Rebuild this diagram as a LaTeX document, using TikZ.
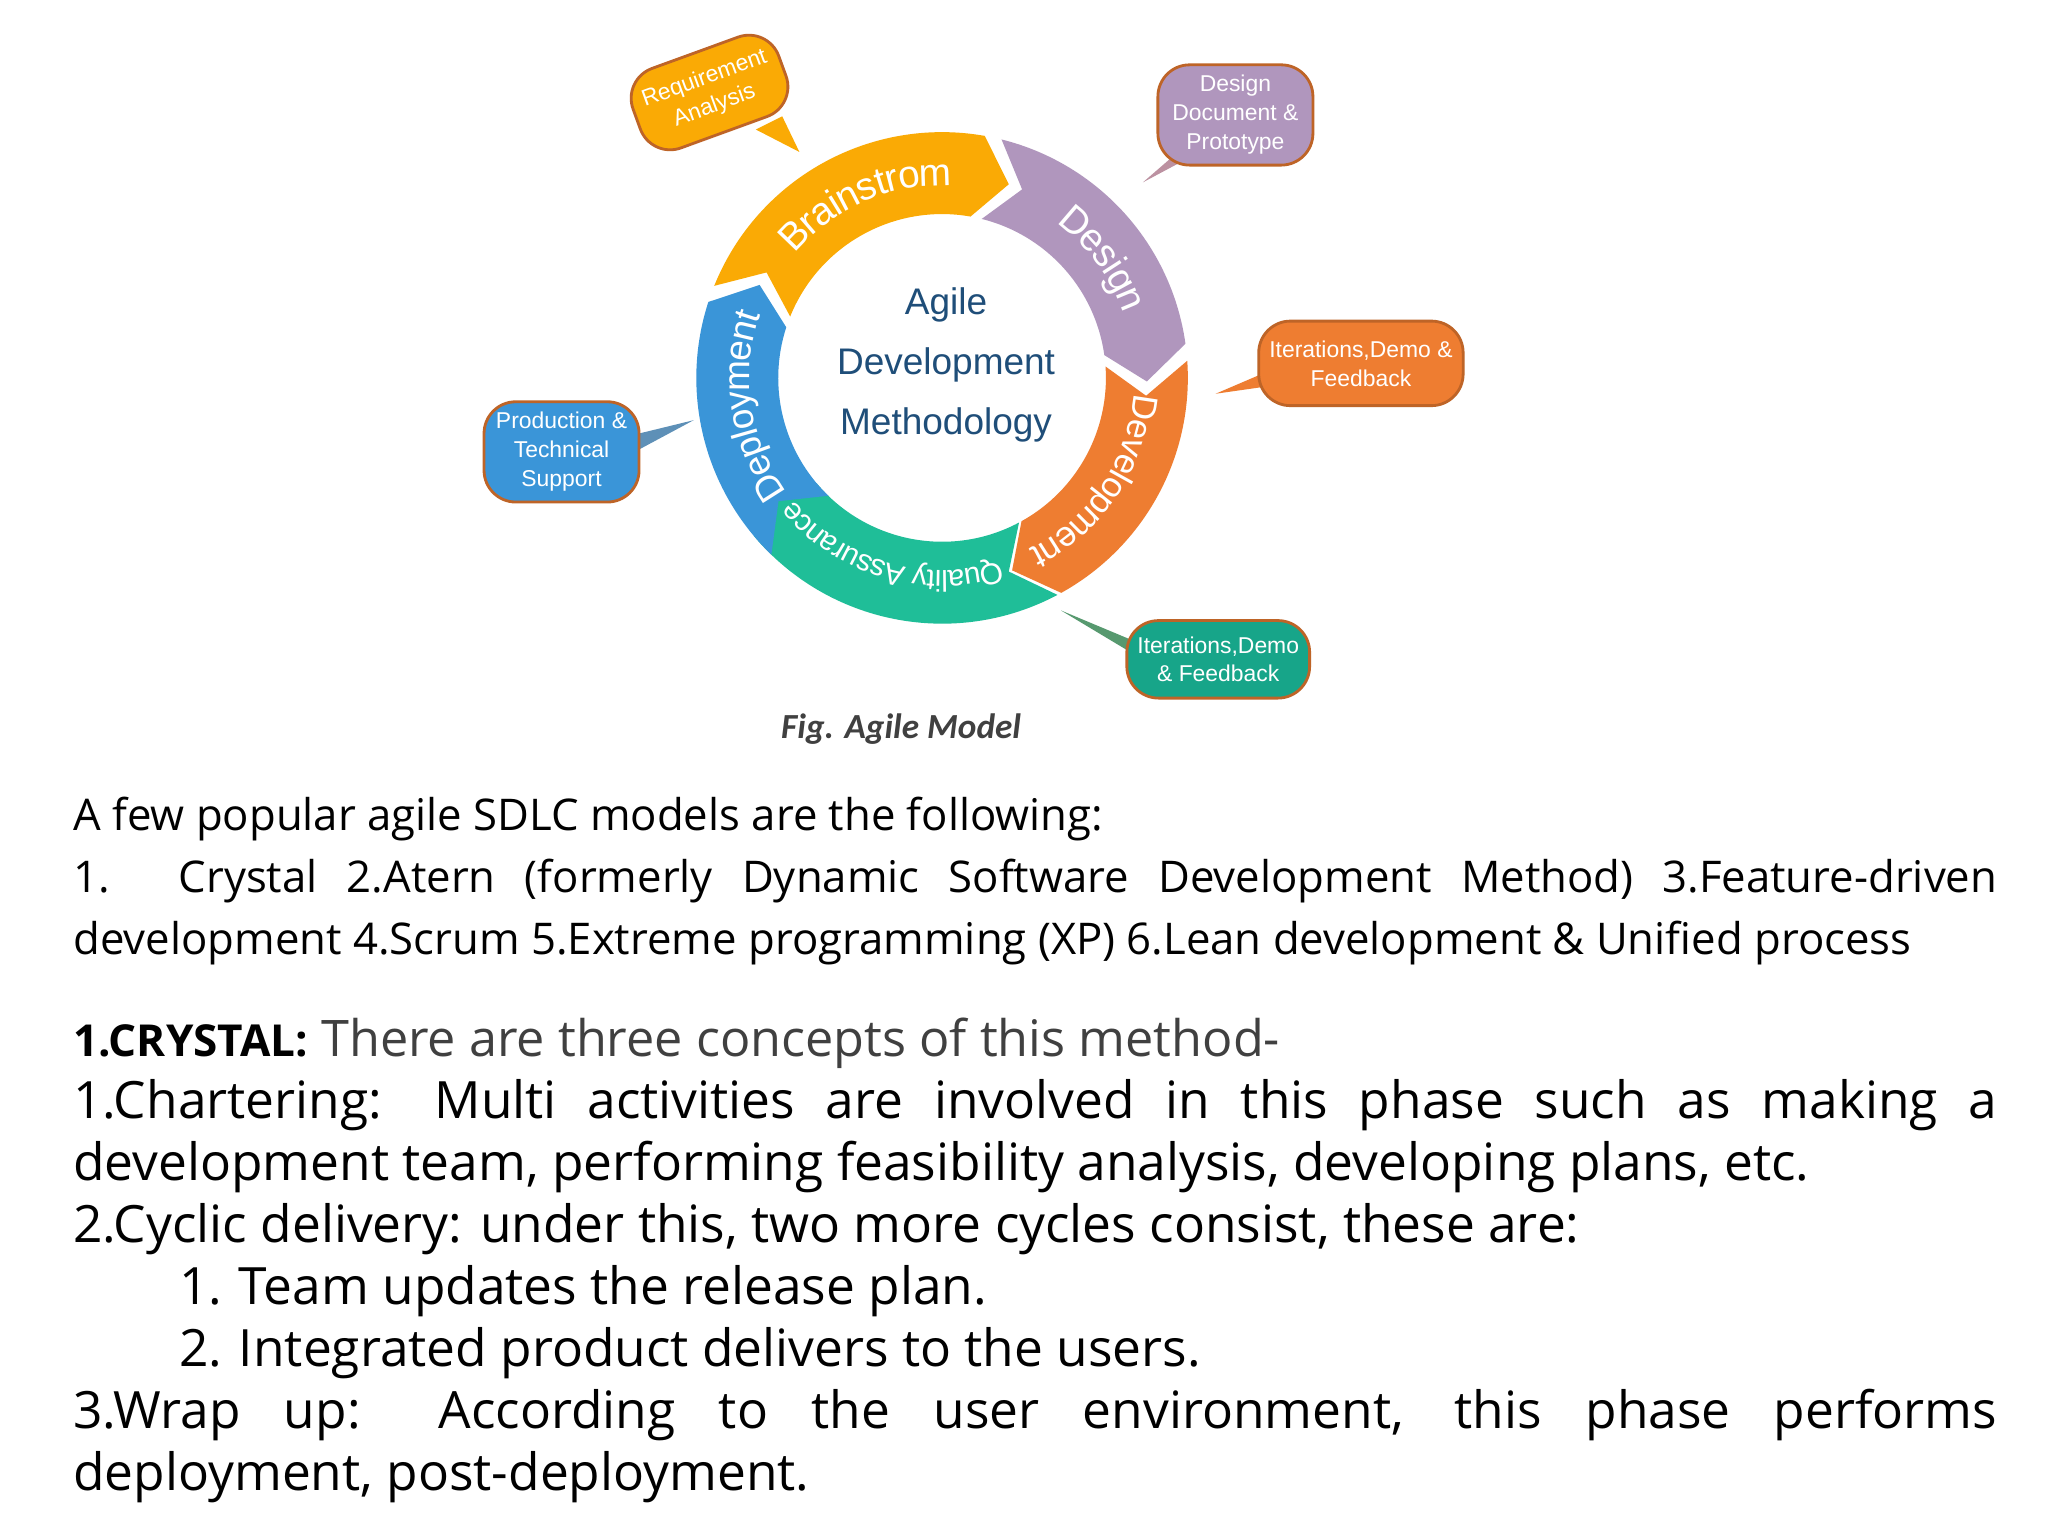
\documentclass[tikz,border=0pt]{standalone}
\usepackage{fontspec}
\setmainfont{Open Sans}
\newfontfamily\callfont{Liberation Sans}
\newfontfamily\capfont{Carlito}
\usetikzlibrary{decorations.text}
\definecolor{cBrain}{HTML}{FAAA05}
\definecolor{cDesign}{HTML}{B096BD}
\definecolor{cDev}{HTML}{EE7D31}
\definecolor{cQA}{HTML}{1FBE98}
\definecolor{cDep}{HTML}{3A95D8}
\definecolor{cTeal}{HTML}{17A589}
\definecolor{cCenter}{HTML}{1F4E79}
\definecolor{cGray}{HTML}{404040}
\tikzset{
  callout/.style={rounded corners=9pt,draw=cDev!80!black,line width=0.8pt,text=white,font=\callfont\fontsize{6.5}{8.2}\selectfont,align=center,inner sep=3pt},
  ringtext/.style 2 args={decorate,decoration={text along path,text align=center,raise=-3.5pt,text={|\callfont\fontsize{#2}{12}\selectfont\color{white}|#1}}}
}
\newcommand{\seg}[5]{% start, end, color, text, size
  \fill[#3] (#1:186) arc[start angle=#1,end angle=#2,radius=186] -- (#2-9:155) -- (#2:124) arc[start angle=#2,end angle=#1,radius=124] -- (#1-9:155) -- cycle;
  \path[ringtext={#4}{#5}] (#1-9:155) arc[start angle=#1-9,end angle=#2-2,radius=155];
}
\begin{document}
\begin{tikzpicture}[x=0.375pt,y=-0.375pt]
\useasboundingbox (0,0) rectangle (1550,1163);
\fill[white] (0,0) rectangle (1550,1163);
\begin{scope}[shift={(713,286)},y=0.375pt]
\seg{-62}{-140}{cQA}{Quality Assurance}{8.5}
\seg{158}{80}{cBrain}{Brainstrom}{11}
\seg{76}{8}{cDesign}{Design}{11}
\seg{4}{-61}{cDev}{Development}{10}
\seg{-134}{-198}{cDep}{Deployment}{10.5}
\end{scope}
\node[font=\callfont\fontsize{10.5}{17}\selectfont,text=cCenter,align=center] (center) at (716,276) {Agile\\Development\\Methodology};
% callouts
\fill[cBrain] (572,98) -- (605,115) -- (592,88) -- cycle;
\node[callout,fill=cBrain,minimum width=44pt,minimum height=24pt,rotate=20] (req) at (537,70) {Requirement\\Analysis};
\fill[cDesign!80!cDev] (895,112) -- (865,138) -- (910,114) -- cycle;
\node[callout,fill=cDesign,minimum width=44pt] (des) at (935,87) {Design\\Document \&\\Prototype};
\fill[cDev] (962,280) -- (920,298) -- (962,292) -- cycle;
\node[callout,fill=cDev,minimum width=53pt,minimum height=24pt] (it1) at (1030,275) {Iterations,Demo \&\\Feedback};
\fill[cDep!80!cDev] (484,328) -- (525,318) -- (484,340) -- cycle;
\node[callout,fill=cDep,minimum width=44pt] (prod) at (425,342) {Production \&\\Technical\\Support};
\fill[cTeal!70!cDev] (858,485) -- (803,462) -- (858,495) -- cycle;
\node[callout,fill=cTeal,minimum width=49pt,minimum height=22pt] (it2) at (922,499) {Iterations,Demo\\\& Feedback};
\node[font=\capfont\bfseries\itshape\fontsize{10}{12}\selectfont,text=cGray] (cap) at (682,552) {Fig. Agile Model};
% body
\node[anchor=north west,inner sep=0pt,text width=546pt,align=justify,font=\fontsize{12.4}{17.6}\selectfont] (p1) at (55,603) {\hyphenpenalty=10000\relax A few popular agile SDLC models are the following:\\
1. Crystal 2.Atern (formerly Dynamic Software Development Method) 3.Feature-driven\linebreak development 4.Scrum 5.Extreme programming (XP) 6.Lean development \& Unified process};
\node[anchor=north west,inner sep=0pt,text width=546pt,align=justify,font=\fontsize{14.6}{17.6}\selectfont] (p2) at (55,770) {\hyphenpenalty=10000\relax\textbf{\fontsize{12.5}{17.6}\selectfont 1.CRYSTAL:} {\color{cGray}\fontsize{14.3}{17.6}\selectfont There are three concepts of this method-}\\
1.Chartering: Multi activities are involved in this phase such as making a\linebreak development team, performing feasibility analysis, developing plans, etc.\par
\noindent 2.Cyclic delivery: under this, two more cycles consist, these are:\\
\hspace*{30pt}\makebox[17pt][l]{1.}Team updates the release plan.\\
\hspace*{30pt}\makebox[17pt][l]{2.}Integrated product delivers to the users.\\
3.Wrap up: According to the user environment, this phase performs\linebreak deployment, post-deployment.};
\end{tikzpicture}
\end{document}
